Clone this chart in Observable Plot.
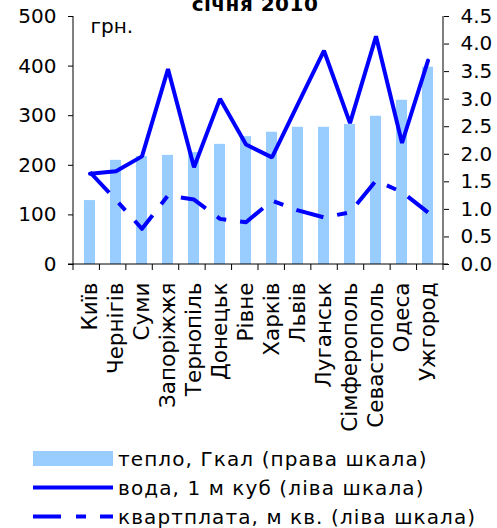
<!DOCTYPE html>
<html>
<head>
<meta charset="utf-8">
<script src="https://cdn.jsdelivr.net/npm/d3@7"></script>
<script src="https://cdn.jsdelivr.net/npm/@observablehq/plot@0.6"></script>
<style>
  body { margin: 0; background: white; font-family: "DejaVu Sans", sans-serif; }
  #wrap { position: relative; width: 497px; height: 528px; overflow: hidden; background: white; }
  #title { position: absolute; left: 0; width: 510px; text-align: center; top: -6px; font-size: 20px; line-height: 20px; font-weight: bold; color: #000; letter-spacing: 0.5px; }
  #chart svg { display: block; }
  #legend { position: absolute; left: 0; top: 444px; }
  .row { display: flex; align-items: center; height: 29px; font-size: 20px; letter-spacing: 1.1px; color: #000; white-space: nowrap; }
  .row svg { margin-left: 33px; margin-right: 5px; display: block; }
</style>
</head>
<body>
<div id="wrap">
  <div id="chart"></div>
  <div id="title">січня 2010</div>
  <div id="legend"></div>
</div>
<script>
const cities = ["Київ","Чернігів","Суми","Запоріжжя","Тернопіль","Донецьк","Рівне","Харків","Львів","Луганськ","Сімферополь","Севастополь","Одеса","Ужгород"];
const heat  = [1.16, 1.89, 1.96, 1.98, 2.03, 2.18, 2.32, 2.40, 2.49, 2.49, 2.54, 2.69, 2.98, 3.58];
const water = [183, 188, 218, 394, 196, 334, 242, 216, 324, 431, 285, 460, 245, 411];
const rent  = [186, 130, 72, 139, 131, 92, 85, 129, 109, 95, 105, 169, 146, 105];
const leftTicks = [0, 100, 200, 300, 400, 500];
const rightTicks = [0, 0.5, 1, 1.5, 2, 2.5, 3, 3.5, 4, 4.5];
const legendLabels = ["тепло, Гкал (права шкала)", "вода, 1 м куб (ліва шкала)", "квартплата, м кв. (ліва шкала)"];

const leftMax = 500, rightMax = 4.5;
const k = leftMax / rightMax;
const data = cities.map((c, i) => ({city: c, heat: heat[i], water: water[i], rent: rent[i]}));

const W = 497, H = 440, mL = 73, mR = 54, mT = 16, mB = 176;

const frameMark = (index, scales, values, dims) => {
  const g = d3.create("svg:g").attr("stroke", "#000").attr("stroke-width", 1).attr("fill", "none");
  const x0 = dims.marginLeft, x1 = dims.width - dims.marginRight;
  const y0 = dims.marginTop, y1 = dims.height - dims.marginBottom;
  g.append("line").attr("x1", x0).attr("x2", x0).attr("y1", y0).attr("y2", y1 + 0.5);
  g.append("line").attr("x1", x1).attr("x2", x1).attr("y1", y0).attr("y2", y1 + 0.5);
  g.append("line").attr("x1", x0 - 5).attr("x2", x1 + 5).attr("y1", y1).attr("y2", y1);
  const step = (x1 - x0) / cities.length;
  for (let i = 0; i <= cities.length; i++) {
    const xx = x0 + i * step;
    g.append("line").attr("x1", xx).attr("x2", xx).attr("y1", y1).attr("y2", y1 + 6);
  }
  return g.node();
};

const chart = Plot.plot({
  width: W, height: H,
  marginLeft: mL, marginRight: mR, marginTop: mT, marginBottom: mB,
  style: {fontFamily: "DejaVu Sans, sans-serif", fontSize: "20px", color: "#000", background: "white", overflow: "visible"},
  x: {domain: cities, paddingInner: 0.58, paddingOuter: 0.29, axis: null},
  y: {domain: [0, leftMax], axis: null},
  marks: [
    Plot.barY(data, {x: "city", y: d => d.heat * k, fill: "#99CCFF"}),
    Plot.line(data, {x: "city", y: "water", stroke: "#0000FF", strokeWidth: 4, strokeLinejoin: "miter"}),
    Plot.line(data, {x: "city", y: "rent", stroke: "#0000FF", strokeWidth: 4, strokeDasharray: "28,14,10,14", strokeLinecap: "butt"}),
    frameMark,
    Plot.axisY(leftTicks, {anchor: "left", tickSize: 5, tickPadding: 12, fontSize: 20, label: null}),
    Plot.axisY(rightTicks.map(v => v * k), {anchor: "right", tickSize: 5, tickPadding: 12, fontSize: 20, label: null, tickFormat: v => (v / k).toFixed(1)}),
    Plot.axisX({anchor: "bottom", tickSize: 0, tickRotate: -90, tickPadding: 18, fontSize: 21.5, label: null}),
    Plot.text(["грн."], {frameAnchor: "top-left", textAnchor: "start", dx: 17, dy: 2, fontSize: 20})
  ]
});
document.getElementById("chart").appendChild(chart);

const legend = d3.select("#legend");
const swatches = [
  s => s.append("rect").attr("x", 0).attr("y", 7).attr("width", 80).attr("height", 15).attr("fill", "#99CCFF"),
  s => s.append("line").attr("x1", 0).attr("x2", 80).attr("y1", 14.5).attr("y2", 14.5).attr("stroke", "#0000FF").attr("stroke-width", 4).attr("stroke-linecap", "round"),
  s => s.append("line").attr("x1", 0).attr("x2", 80).attr("y1", 14.5).attr("y2", 14.5).attr("stroke", "#0000FF").attr("stroke-width", 4).attr("stroke-dasharray", "28,15,10,14")
];
legendLabels.forEach((lab, i) => {
  const row = legend.append("div").attr("class", "row");
  const s = row.append("svg").attr("width", 80).attr("height", 29);
  swatches[i](s);
  row.append("span").text(lab);
});
</script>
</body>
</html>
